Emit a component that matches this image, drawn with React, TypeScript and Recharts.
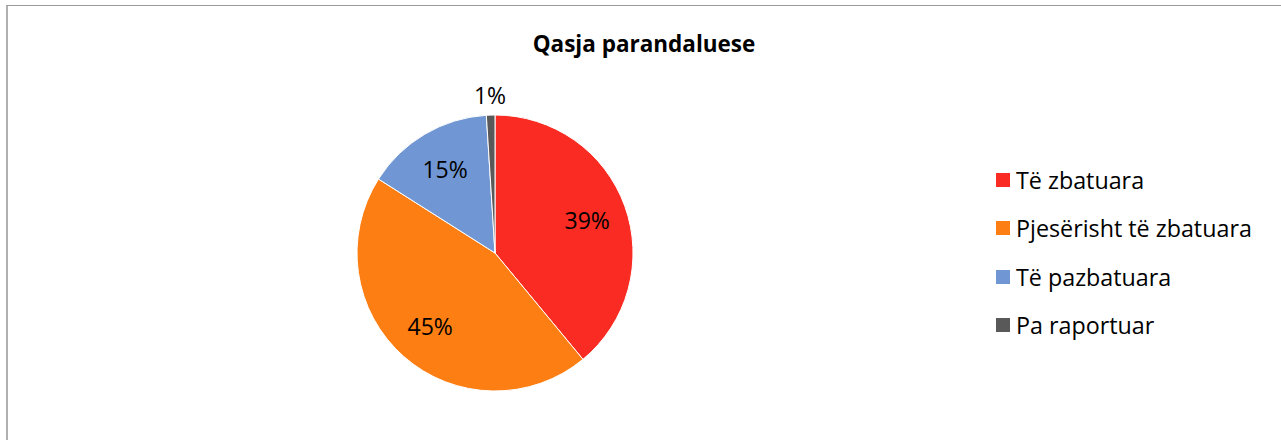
import { PieChart, Pie, Cell, Legend } from "recharts";

const CATEGORIES = ["Të zbatuara", "Pjesërisht të zbatuara", "Të pazbatuara", "Pa raportuar"];
const VALUES = [39, 45, 15, 1];
const COLORS = ["#F92B22", "#FD7E12", "#7097D3", "#595959"];
const TITLE = "Qasja parandaluese";

const FONT = "'Open Sans', sans-serif";
const RADIAN = Math.PI / 180;

const data = CATEGORIES.map((name, i) => ({ name, value: VALUES[i] }));

// etiketat brenda fetës, ato shumë të vogla jashtë
function renderLabel(props: any) {
    const { cx, cy, midAngle, outerRadius, percent, value } = props;
    const r = percent < 0.05 ? outerRadius + 20 : outerRadius * 0.71;
    const x = cx + r * Math.cos(-midAngle * RADIAN);
    const y = cy + r * Math.sin(-midAngle * RADIAN);
    return (
        <text
            x={x}
            y={y}
            fill="#000"
            textAnchor="middle"
            dominantBaseline="central"
            style={{ fontFamily: FONT, fontSize: 23 }}
        >
            {`${value}%`}
        </text>
    );
}

function LegendContent() {
    return (
        <div style={{ fontFamily: FONT }}>
            {data.map((d, i) => (
                <div
                    key={d.name}
                    style={{ display: "flex", alignItems: "center", height: 48.3 }}
                >
                    <span
                        style={{
                            width: 14,
                            height: 14,
                            backgroundColor: COLORS[i],
                            marginRight: 6,
                            flexShrink: 0,
                        }}
                    />
                    <span style={{ fontSize: 23.3, color: "#000", whiteSpace: "nowrap" }}>
                        {d.name}
                    </span>
                </div>
            ))}
        </div>
    );
}

export default function App() {
    return (
        <div style={{ position: "absolute", left: 0, top: 0, width: 1281, height: 440, background: "#fff" }}>
            <div
                style={{
                    position: "absolute",
                    left: 6,
                    top: 5,
                    right: 0,
                    bottom: 0,
                    borderLeft: "2px solid #b0b0b0",
                    borderTop: "1px solid #999",
                }}
            />
            <div style={{ position: "absolute", left: 0, top: 0 }}>
                <PieChart width={1281} height={440} margin={{ top: 0, right: 0, bottom: 0, left: 0 }}>
                    <text
                        x={644}
                        y={52}
                        textAnchor="middle"
                        style={{ fontFamily: FONT, fontSize: 22.5, fontWeight: 700 }}
                        fill="#000"
                    >
                        {TITLE}
                    </text>
                    <Pie
                        data={data}
                        dataKey="value"
                        nameKey="name"
                        cx={495}
                        cy={253}
                        outerRadius={138}
                        startAngle={90}
                        endAngle={-270}
                        stroke="#fff"
                        strokeWidth={1}
                        label={renderLabel}
                        labelLine={false}
                        isAnimationActive={false}
                    >
                        {data.map((_, i) => (
                            <Cell key={`cell-${i}`} fill={COLORS[i]} />
                        ))}
                    </Pie>
                    <Legend
                        layout="vertical"
                        content={<LegendContent />}
                        wrapperStyle={{ left: 996, top: 156, width: 285 }}
                    />
                </PieChart>
            </div>
        </div>
    );
}
